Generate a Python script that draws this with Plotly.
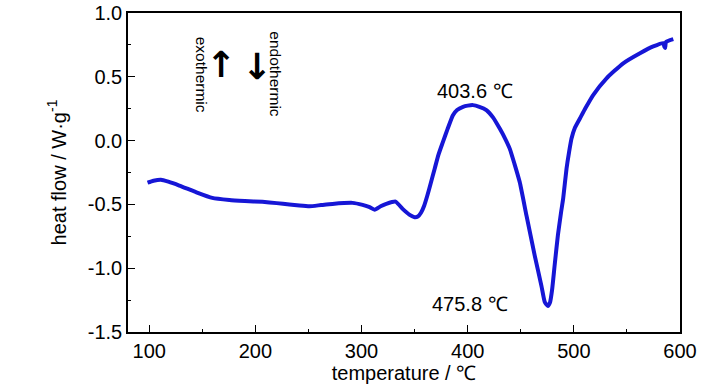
import plotly.graph_objects as go

temperature = [98.4, 104, 111, 118, 128.3, 144, 159.4, 175.5, 190, 206.6, 220, 232, 241.5, 251, 262, 272.6,
               291.5, 301, 307, 312.3, 318, 323.3, 332, 338.7, 345, 350, 353, 356, 359, 362, 365,
               368.9, 372.5, 376.7, 381, 386.1, 390, 395.6, 400, 405, 411, 417.6, 424, 430.2, 435, 439.6,
               444, 449, 455.4, 463.2, 469.5, 472.6, 475.5, 477.5, 479.5, 482, 485, 488, 490, 493.1,
               495.5, 497.8, 501, 505.7, 511, 518.2, 530.8, 546.5, 562.3, 574.8, 584.2, 585.3, 586.0, 586.8, 593.7]
heat_flow = [-0.33, -0.315, -0.307, -0.322, -0.352, -0.404, -0.449, -0.465, -0.473, -0.48, -0.49, -0.50, -0.509, -0.515, -0.505, -0.496,
             -0.488, -0.504, -0.52, -0.541, -0.515, -0.496, -0.478, -0.535, -0.58, -0.60, -0.595, -0.565, -0.51, -0.43, -0.34,
             -0.22, -0.11, -0.01, 0.09, 0.199, 0.24, 0.265, 0.274, 0.278, 0.265, 0.239, 0.18, 0.094, 0.02, -0.063,
             -0.18, -0.325, -0.588, -0.903, -1.14, -1.265, -1.297, -1.27, -1.17, -0.97, -0.74, -0.56, -0.45, -0.22,
             -0.09, 0.016, 0.10, 0.173, 0.255, 0.357, 0.488, 0.606, 0.685, 0.738, 0.764, 0.735, 0.725, 0.772, 0.795]

x_ticks = [100, 200, 300, 400, 500, 600]
y_ticks = [-1.5, -1.0, -0.5, 0.0, 0.5, 1.0]
y_tick_labels = ["-1.5", "-1.0", "-0.5", "0.0", "0.5", "1.0"]

peak_labels = ["403.6 ℃", "475.8 ℃"]
peak_label_pos = [(406.6, 0.386), (401.9, -1.283)]

FONT = "Liberation Sans, Arial, sans-serif"

fig = go.Figure()
fig.add_trace(go.Scatter(x=temperature, y=heat_flow, mode="lines",
                         line=dict(color="rgb(22,22,214)", width=4, shape="spline", smoothing=0.5),
                         showlegend=False, hoverinfo="skip"))

axis_common = dict(showgrid=False, zeroline=False, showline=True, linecolor="black", linewidth=1.5,
                   mirror=True, ticks="inside", ticklen=7, tickwidth=1, tickcolor="black",
                   automargin=False, ticklabeloverflow="allow",
                   tickfont=dict(family=FONT, size=20, color="black"))

fig.update_xaxes(range=[80, 600], tickvals=x_ticks, ticktext=[str(v) for v in x_ticks],
                 minor=dict(ticks="inside", dtick=50, tick0=50, ticklen=3, tickcolor="black", showgrid=False),
                 title=dict(text="temperature / ℃", font=dict(family=FONT, size=20, color="black"), standoff=4),
                 **axis_common)
fig.update_yaxes(range=[-1.5, 1.0], tickvals=y_ticks, ticktext=y_tick_labels,
                 minor=dict(ticks="inside", dtick=0.25, tick0=0.25, ticklen=3, tickcolor="black", showgrid=False),
                 title=dict(text="heat flow / W·g<sup>-1</sup>", font=dict(family=FONT, size=20, color="black"), standoff=16),
                 **axis_common)

for txt, (xx, yy) in zip(peak_labels, peak_label_pos):
    fig.add_annotation(x=xx, y=yy, text=txt, showarrow=False,
                       font=dict(family=FONT, size=20, color="black"))

fig.add_annotation(x=148.8, y=0.516, text="exothermic", textangle=90, showarrow=False,
                   font=dict(family=FONT, size=15.5, color="black"))
fig.add_annotation(x=218.9, y=0.516, text="endothermic", textangle=90, showarrow=False,
                   font=dict(family=FONT, size=15.5, color="black"))
fig.add_annotation(x=167.6, y=0.593, text="<b>↑</b>", showarrow=False,
                   font=dict(family="DejaVu Sans", size=36, color="black"))
fig.add_annotation(x=201.9, y=0.583, text="<b>↓</b>", showarrow=False,
                   font=dict(family="DejaVu Sans", size=36, color="black"))

fig.update_layout(width=728, height=390, margin=dict(l=128, r=48, t=13, b=58),
                  paper_bgcolor="white", plot_bgcolor="white", hovermode=False)

# remove the default 8px page margin so the figure fills the 728x390 window exactly
fig.write_html("out.html", config={"displayModeBar": False},
               post_script="document.body.style.margin='0';document.body.style.overflow='hidden';")
